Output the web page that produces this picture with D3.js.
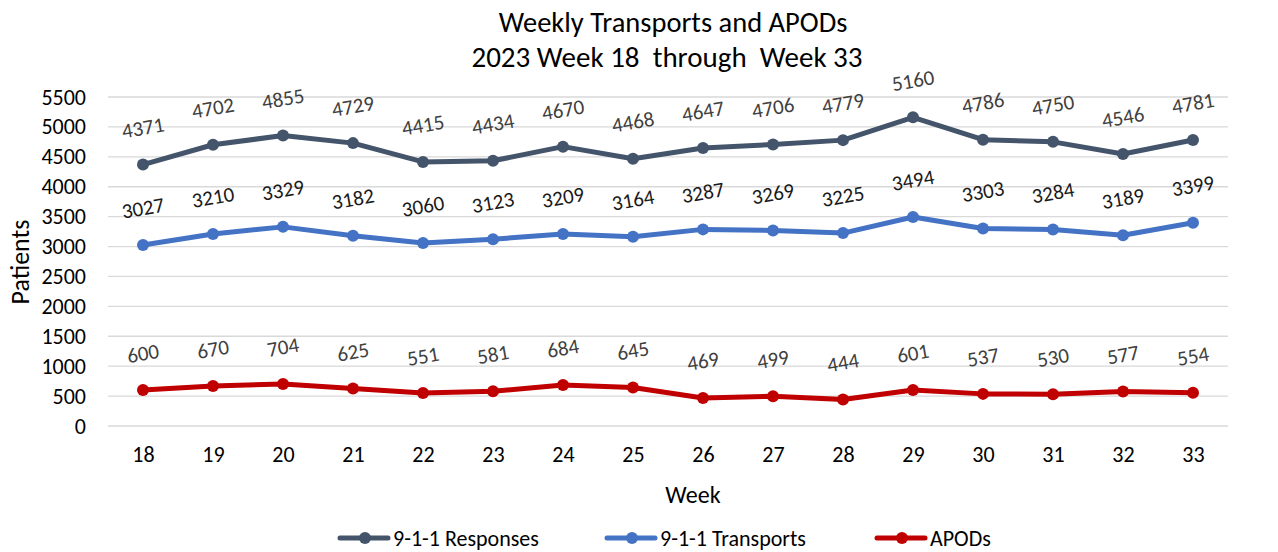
<!DOCTYPE html>
<html>
<head>
<meta charset="utf-8">
<script src="https://cdn.jsdelivr.net/npm/d3@7"></script>
<style>
  body { margin: 0; background: #fff; }
  svg text { font-family: Carlito, "Open Sans", "Liberation Sans", sans-serif; }
</style>
</head>
<body>
<svg id="chart" width="1278" height="552"></svg>
<script>
var weeks = [18, 19, 20, 21, 22, 23, 24, 25, 26, 27, 28, 29, 30, 31, 32, 33];
var responses = [4371, 4702, 4855, 4729, 4415, 4434, 4670, 4468, 4647, 4706, 4779, 5160, 4786, 4750, 4546, 4781];
var transports = [3027, 3210, 3329, 3182, 3060, 3123, 3209, 3164, 3287, 3269, 3225, 3494, 3303, 3284, 3189, 3399];
var apods = [600, 670, 704, 625, 551, 581, 684, 645, 469, 499, 444, 601, 537, 530, 577, 554];
var yTicks = [0, 500, 1000, 1500, 2000, 2500, 3000, 3500, 4000, 4500, 5000, 5500];

var series = [
  { name: '9-1-1 Responses', values: responses, color: '#44546A', labelColor: '#404040' },
  { name: '9-1-1 Transports', values: transports, color: '#4472C4', labelColor: '#1a1a1a' },
  { name: 'APODs', values: apods, color: '#C00000', labelColor: '#404040' }
];

var svg = d3.select('#chart');
var plotL = 108, plotR = 1228, plotT = 97, plotB = 426;

var x = d3.scalePoint().domain(weeks).range([plotL, plotR]).padding(0.5);
var y = d3.scaleLinear().domain([0, 5500]).range([plotB, plotT]);

// gridlines
svg.append('g')
  .selectAll('line')
  .data(yTicks)
  .enter()
  .append('line')
  .attr('x1', plotL).attr('x2', plotR)
  .attr('y1', function(d) { return y(d); })
  .attr('y2', function(d) { return y(d); })
  .attr('stroke', '#d9d9d9')
  .attr('stroke-width', 1.3);

// y axis labels
var yAxis = svg.append('g')
  .attr('transform', 'translate(' + (plotL - 22) + ',0)')
  .call(d3.axisLeft(y).tickValues(yTicks).tickFormat(d3.format('d')).tickSize(0).tickPadding(0));
yAxis.select('.domain').remove();
yAxis.selectAll('text').attr('font-size', 22).attr('fill', '#000').style('font-family', null);

// x axis labels
var xAxis = svg.append('g')
  .attr('transform', 'translate(0,' + (plotB + 20) + ')')
  .call(d3.axisBottom(x).tickSize(0).tickPadding(0));
xAxis.select('.domain').remove();
xAxis.selectAll('text').attr('font-size', 22).attr('fill', '#000').style('font-family', null);

// titles
svg.append('text').attr('x', 673).attr('y', 32).attr('text-anchor', 'middle')
  .attr('font-size', 28.5).attr('fill', '#000').text('Weekly Transports and APODs');
svg.append('text').attr('x', 667).attr('y', 67).attr('text-anchor', 'middle')
  .attr('font-size', 29).attr('fill', '#000').attr('xml:space', 'preserve')
  .text('2023 Week 18  through  Week 33');

svg.append('text').attr('x', 693).attr('y', 503).attr('text-anchor', 'middle')
  .attr('font-size', 24).attr('fill', '#000').text('Week');
svg.append('text')
  .attr('transform', 'translate(29,262) rotate(-90)')
  .attr('text-anchor', 'middle')
  .attr('font-size', 26).attr('fill', '#000').text('Patients');

var line = d3.line()
  .x(function(d, i) { return x(weeks[i]); })
  .y(function(d) { return y(d); });

series.forEach(function(s) {
  var g = svg.append('g');
  g.append('path')
    .datum(s.values)
    .attr('fill', 'none')
    .attr('stroke', s.color)
    .attr('stroke-width', 5)
    .attr('stroke-linejoin', 'round')
    .attr('d', line);

  g.selectAll('circle')
    .data(s.values)
    .enter()
    .append('circle')
    .attr('cx', function(d, i) { return x(weeks[i]); })
    .attr('cy', function(d) { return y(d); })
    .attr('r', 6)
    .attr('fill', s.color);

  g.selectAll('text')
    .data(s.values)
    .enter()
    .append('text')
    .attr('transform', function(d, i) {
      return 'translate(' + x(weeks[i]) + ',' + (y(d) - 37) + ') rotate(-10)';
    })
    .attr('text-anchor', 'middle')
    .attr('dy', '0.35em')
    .attr('font-size', 21)
    .attr('fill', s.labelColor)
    .text(function(d) { return d; });
});

// legend
var legendX = [340, 607, 877];
series.forEach(function(s, i) {
  var lg = svg.append('g').attr('transform', 'translate(' + legendX[i] + ',538)');
  lg.append('line').attr('x1', 0).attr('x2', 48).attr('y1', 0).attr('y2', 0)
    .attr('stroke', s.color).attr('stroke-width', 5).attr('stroke-linecap', 'round');
  lg.append('circle').attr('cx', 25).attr('cy', 0).attr('r', 6).attr('fill', s.color);
  lg.append('text').attr('x', 53).attr('y', 0).attr('dy', '0.35em')
    .attr('font-size', 22).attr('fill', '#000').text(s.name);
});
</script>
</body>
</html>
